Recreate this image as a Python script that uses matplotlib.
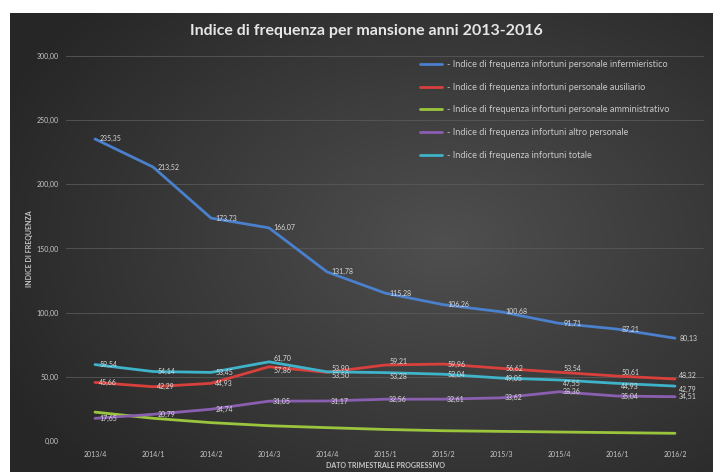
import numpy as np
import matplotlib.pyplot as plt

# quarterly accident frequency index by job role, 2013-2016
quarters = ["2013/4", "2014/1", "2014/2", "2014/3", "2014/4", "2015/1",
            "2015/2", "2015/3", "2015/4", "2016/1", "2016/2"]
infermieristico = [235.35, 213.52, 173.73, 166.07, 131.78, 115.28,
                   106.26, 100.68, 91.71, 87.21, 80.13]
ausiliario = [45.66, 42.29, 44.93, 57.86, 53.50, 59.21,
              59.96, 56.62, 53.54, 50.61, 48.32]
amministrativo = [22.50, 17.70, 14.30, 11.90, 10.40, 9.00,
                  8.00, 7.50, 7.00, 6.50, 6.00]
altro = [17.65, 20.79, 24.74, 31.05, 31.17, 32.56,
         32.61, 33.62, 38.36, 35.04, 34.51]
totale = [59.54, 54.14, 53.45, 61.70, 53.90, 53.28,
          52.04, 49.05, 47.55, 44.93, 42.79]

labels = ["- Indice di frequenza infortuni personale infermieristico",
          "- Indice di frequenza infortuni personale ausiliario",
          "- Indice di frequenza infortuni personale amministrativo",
          "- Indice di frequenza infortuni altro personale",
          "- Indice di frequenza infortuni totale"]
colors = ["#4a80cc", "#d8403c", "#9bc53d", "#8a5fb0", "#3fb3c9"]

plt.rcParams["font.family"] = ["Lato", "DejaVu Sans"]
txt = "#c8c8c8"

fig = plt.figure(figsize=(7.21, 4.72), dpi=100)
fig.patch.set_facecolor("white")

# dark radial-gradient panel behind the chart
bg = fig.add_axes([10 / 721, 0, 703 / 721, 459 / 472])
yy, xx = np.mgrid[0:1:240j, 0:1:360j]
d = np.sqrt(((xx - 0.62) / 0.7) ** 2 + ((yy - 0.5) / 0.75) ** 2)
shade = 0.31 - 0.16 * np.clip(d, 0, 1)
bg.imshow(np.dstack([shade] * 3), extent=[0, 1, 0, 1], aspect="auto", origin="lower")
bg.axis("off")

ax = fig.add_axes([66 / 721, 1 - 441 / 472, 638 / 721, 385 / 472])
ax.patch.set_alpha(0)

x = np.arange(len(quarters))
series = [infermieristico, ausiliario, amministrativo, altro, totale]
for s, c, lab in zip(series, colors, labels):
    ax.plot(x, s, color=c, lw=2, label=lab, solid_capstyle="round")


def fmt(v):
    return f"{v:.2f}".replace(".", ",")


# value labels (no labels on the administrative series)
for s in [infermieristico, altro]:
    for xi, v in zip(x, s):
        ax.annotate(fmt(v), (xi, v), xytext=(3, 0), textcoords="offset points",
                    fontsize=5, color="#d9d9d9", va="center", ha="left")

# red and cyan run close together: push their labels apart where needed
for xi, r, t in zip(x, ausiliario, totale):
    gap = 0 if abs(r - t) > 6 else 2.5
    up_r = gap if r >= t else -gap
    ax.annotate(fmt(r), (xi, r), xytext=(3, up_r), textcoords="offset points",
                fontsize=5, color="#d9d9d9", va="center", ha="left")
    ax.annotate(fmt(t), (xi, t), xytext=(3, -up_r), textcoords="offset points",
                fontsize=5, color="#d9d9d9", va="center", ha="left")

ax.set_xlim(-0.5, len(quarters) - 0.5)
ax.set_ylim(0, 300)
ax.set_yticks(np.arange(0, 301, 50))
ax.set_yticklabels([fmt(v) for v in np.arange(0, 301, 50)])
ax.set_xticks(x)
ax.set_xticklabels(quarters)
ax.tick_params(length=0, labelsize=5, colors=txt)
ax.tick_params(axis="x", pad=7)
ax.tick_params(axis="y", pad=5)
ax.grid(axis="y", color="#585858", lw=0.6)
ax.set_axisbelow(True)
for sp in ax.spines.values():
    sp.set_visible(False)

ax.set_xlabel("DATO TRIMESTRALE PROGRESSIVO", fontsize=5, color=txt,
              fontweight="bold", labelpad=3)
ax.set_ylabel("INDICE DI FREQUENZA", fontsize=5, color=txt,
              fontweight="bold", labelpad=3)

fig.text(0.508, 1 - 31 / 472, "Indice di frequenza per mansione anni 2013-2016",
         ha="center", va="center", fontsize=11.5, fontweight="bold", color="#e6e6e6")

fig.legend(loc="upper left", bbox_to_anchor=(420 / 721, 1 - 60 / 472),
           frameon=False, fontsize=6.6, labelcolor=txt, borderpad=0,
           borderaxespad=0, labelspacing=1.5, handlelength=2.4,
           handletextpad=0.55)

fig.savefig("out.png", dpi=100)
